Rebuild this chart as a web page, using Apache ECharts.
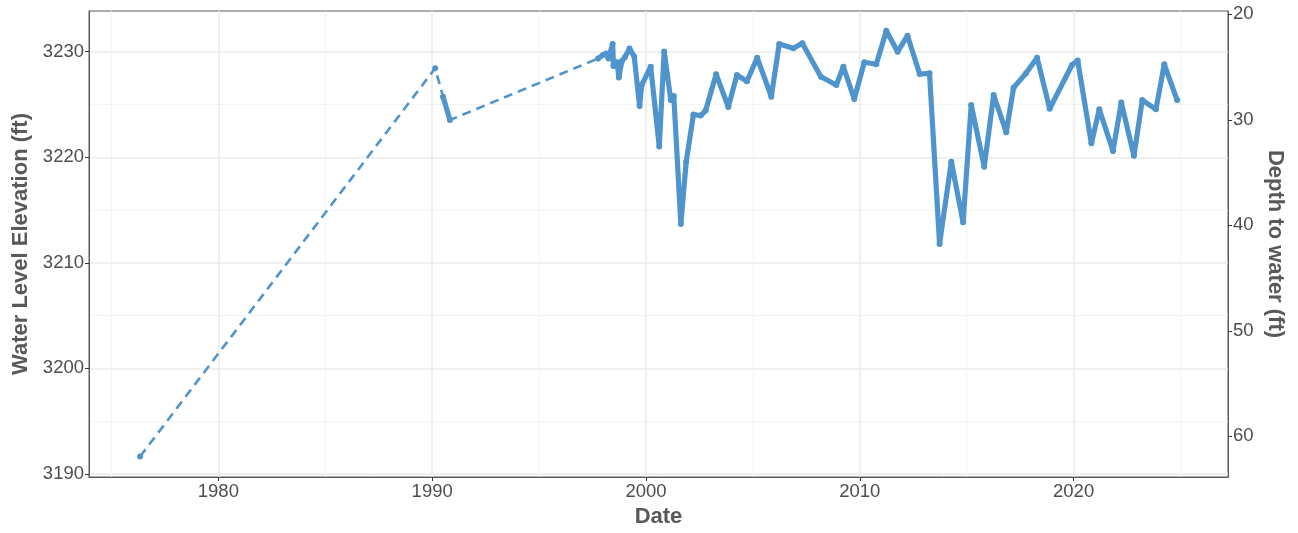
<!DOCTYPE html>
<html>
<head>
<meta charset="utf-8">
<script src="https://cdn.jsdelivr.net/npm/echarts@6/dist/echarts.min.js"></script>
<style>
html,body{margin:0;padding:0;background:#fff;}
#c{width:1298px;height:533px;}
</style>
</head>
<body>
<div id="c"></div>
<script>
// ---- data (decimal years, water level elevation in ft) ----
const dates = [1976.34, 1990.14, 1990.51, 1990.83,
  1997.76, 1997.99, 1998.14, 1998.25, 1998.44, 1998.48, 1998.65, 1998.73, 1998.87, 1999.02,
  1999.23, 1999.45, 1999.70, 1999.80, 2000.22, 2000.62, 2000.85, 2001.16, 2001.30, 2001.63,
  2001.88, 2002.22, 2002.56, 2002.79, 2003.28, 2003.85, 2004.25, 2004.72, 2005.20, 2005.86,
  2006.23, 2006.89, 2007.31, 2008.18, 2008.90, 2009.23, 2009.74, 2010.21, 2010.77, 2011.24,
  2011.77, 2012.23, 2012.80, 2013.26, 2013.73, 2014.28, 2014.83, 2015.21, 2015.82, 2016.26,
  2016.85, 2017.19, 2017.77, 2018.29, 2018.88, 2019.92, 2020.19, 2020.83, 2021.20, 2021.84,
  2022.23, 2022.82, 2023.21, 2023.85, 2024.24, 2024.84];
const elevation = [3191.64, 3228.43, 3225.74, 3223.53,
  3229.36, 3229.69, 3229.83, 3229.37, 3230.73, 3228.64, 3229.00, 3227.55, 3229.12, 3229.50,
  3230.30, 3229.55, 3224.85, 3226.84, 3228.58, 3221.02, 3230.02, 3225.42, 3225.80, 3213.67,
  3219.58, 3224.05, 3223.95, 3224.43, 3227.87, 3224.76, 3227.79, 3227.20, 3229.43, 3225.74,
  3230.73, 3230.32, 3230.80, 3227.63, 3226.84, 3228.58, 3225.52, 3229.00, 3228.81, 3231.99,
  3230.00, 3231.52, 3227.89, 3227.95, 3211.78, 3219.58, 3213.83, 3224.95, 3219.10, 3225.90,
  3222.36, 3226.59, 3227.95, 3229.43, 3224.60, 3228.74, 3229.17, 3221.32, 3224.54, 3220.59,
  3225.19, 3220.14, 3225.42, 3224.54, 3228.81, 3225.42];
// indices of points whose link from the previous point is a gap (drawn dashed)
const gapBefore = [0, 1, 2, 4];
// land surface datum: depth to water = DATUM - elevation
const DATUM = 3253.55;

// ---- axis ticks ----
const xMajorTicks = [1980, 1990, 2000, 2010, 2020];
const xMinorTicks = [1975, 1985, 1995, 2005, 2015, 2025];
const yMajorTicks = [3190, 3200, 3210, 3220, 3230];
const yMinorTicks = [3195, 3205, 3215, 3225];
const depthTicks = [20, 30, 40, 50, 60];
const X_MIN = 1973.95, X_MAX = 2027.22;
const Y_MIN = 3189.7, Y_MAX = 3233.86;

// ---- build series data ----
const dashedData = dates.map((d, i) => [d, elevation[i]]);
const solidData = [];
dates.forEach((d, i) => {
  if (gapBefore.indexOf(i) >= 0 && i > 0) solidData.push([d, null]);
  solidData.push([d, elevation[i]]);
});

const FONT = "'Liberation Sans', Arial, sans-serif";
const BLUE = '#4F94CD';
const LABEL = { color: '#4d4d4d', fontSize: 18.5, fontFamily: FONT };
const TITLE = { color: '#595959', fontSize: 22, fontWeight: 'bold', fontFamily: FONT };
const AXIS_COLOR = '#5a5a5a';

const chart = echarts.init(document.getElementById('c'), null, { renderer: 'canvas' });
chart.setOption({
  animation: false,
  backgroundColor: '#ffffff',
  grid: {
    left: 89, right: 70, top: 11, bottom: 56,
    show: true, borderColor: AXIS_COLOR, borderWidth: 1, backgroundColor: '#ffffff'
  },
  xAxis: [
    {
      type: 'value', min: X_MIN, max: X_MAX, position: 'bottom',
      name: 'Date', nameLocation: 'middle', nameGap: 29, nameTextStyle: TITLE,
      axisLine: { show: true, lineStyle: { color: AXIS_COLOR, width: 1 } },
      axisTick: { show: true, length: 4, customValues: xMajorTicks, lineStyle: { color: '#333' } },
      axisLabel: Object.assign({ customValues: xMajorTicks, margin: 5, formatter: v => String(v) }, LABEL),
      splitLine: { show: true, lineStyle: { color: '#ebebeb', width: 1.6 } }
    },
    {
      type: 'value', min: X_MIN, max: X_MAX, position: 'top',
      axisLine: { show: false },
      axisTick: { show: false, customValues: xMinorTicks },
      axisLabel: { show: false, customValues: xMinorTicks },
      splitLine: { show: true, lineStyle: { color: '#f4f4f4', width: 1 } }
    }
  ],
  yAxis: [
    {
      type: 'value', min: Y_MIN, max: Y_MAX, position: 'left',
      name: 'Water Level Elevation (ft)', nameLocation: 'middle', nameGap: 55, nameRotate: 90,
      nameTextStyle: TITLE,
      axisLine: { show: true, lineStyle: { color: AXIS_COLOR, width: 1 } },
      axisTick: { show: true, length: 4, customValues: yMajorTicks, lineStyle: { color: '#333' } },
      axisLabel: Object.assign({ customValues: yMajorTicks, margin: 5, formatter: v => String(v) }, LABEL),
      splitLine: { show: true, lineStyle: { color: '#ebebeb', width: 1.6 } }
    },
    {
      type: 'value', position: 'right', inverse: true,
      min: DATUM - Y_MAX, max: DATUM - Y_MIN,
      name: 'Depth to water (ft)', nameLocation: 'middle', nameGap: 34, nameRotate: -90,
      nameTextStyle: TITLE,
      axisLine: { show: true, lineStyle: { color: AXIS_COLOR, width: 1 } },
      axisTick: { show: true, length: 4, customValues: depthTicks, lineStyle: { color: '#333' } },
      axisLabel: Object.assign({ customValues: depthTicks, margin: 5, formatter: v => String(v) }, LABEL),
      splitLine: { show: false }
    },
    {
      type: 'value', min: Y_MIN, max: Y_MAX, position: 'left', offset: 0,
      axisLine: { show: false },
      axisTick: { show: false, customValues: yMinorTicks },
      axisLabel: { show: false, customValues: yMinorTicks },
      splitLine: { show: true, lineStyle: { color: '#f4f4f4', width: 1 } }
    }
  ],
  series: [
    {
      type: 'line', xAxisIndex: 0, yAxisIndex: 0, data: dashedData,
      showSymbol: true, symbol: 'circle', symbolSize: 6,
      itemStyle: { color: BLUE },
      lineStyle: { color: BLUE, width: 2.6, type: [9, 6], cap: 'butt' },
      z: 3, silent: true
    },
    {
      type: 'line', xAxisIndex: 0, yAxisIndex: 0, data: solidData,
      showSymbol: false, connectNulls: false,
      lineStyle: { color: BLUE, width: 5.2, cap: 'round', join: 'round' },
      z: 4, silent: true
    }
  ]
});
</script>
</body>
</html>
